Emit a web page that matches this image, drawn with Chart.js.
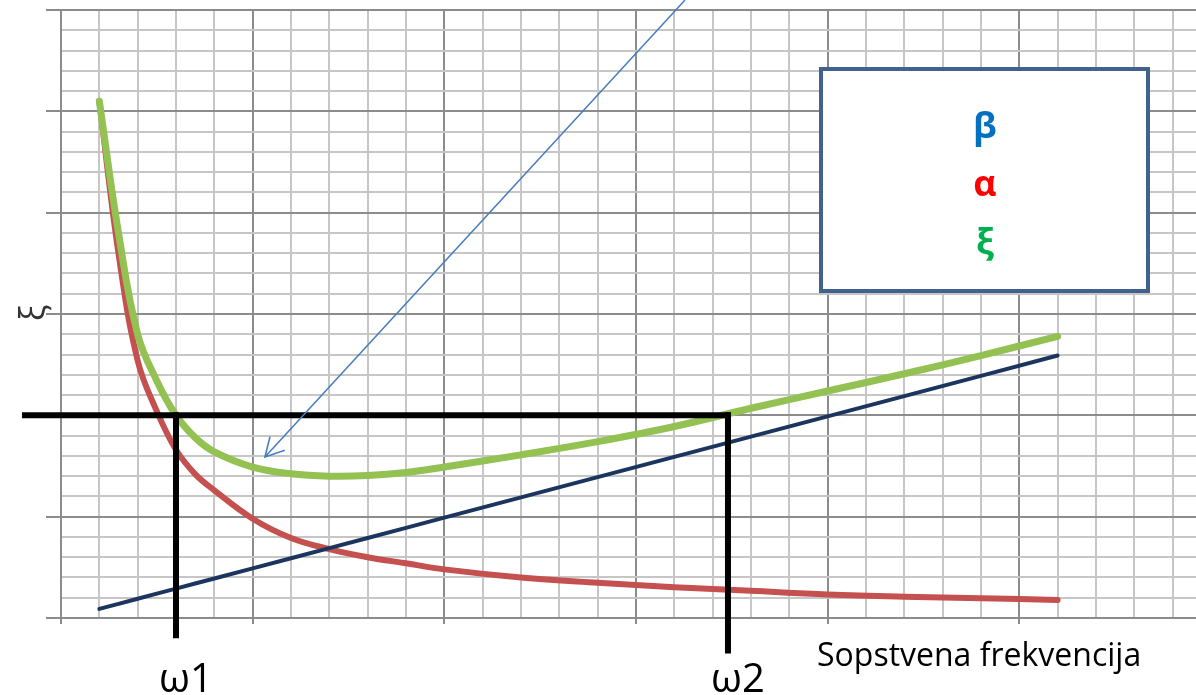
<!DOCTYPE html>
<html>
<head>
<meta charset="utf-8">
<script src="https://cdn.jsdelivr.net/npm/chart.js@4.4.1/dist/chart.umd.min.js"></script>
<style>
    body { margin: 0; background: #ffffff; }
    #wrap { width: 1196px; height: 695px; }
</style>
</head>
<body>
<div id="wrap"><canvas id="myChart" width="1196" height="695"></canvas></div>
<script>
// frequency axis (one grid cell = 1)
var freq = [1, 1.5, 2, 2.5, 3, 3.5, 4, 5, 6, 7, 8, 9, 10, 12, 14, 16, 18, 20, 22, 24, 26];
var alpha = [25.5, 18.0, 12.7, 10.2, 8.3, 7.1, 6.3, 4.9, 3.95, 3.4, 3.0, 2.7, 2.4, 2.0, 1.74, 1.52, 1.34, 1.16, 1.05, 0.98, 0.89];
var beta = [0.45, 0.7, 0.95, 1.2, 1.45, 1.7, 1.95, 2.45, 2.95, 3.45, 3.95, 4.45, 4.95, 5.95, 6.95, 7.95, 8.95, 9.95, 10.95, 11.95, 12.95];
var xi = [25.5, 19.0, 14.0, 11.7, 10.0, 8.9, 8.2, 7.45, 7.12, 7.0, 7.03, 7.18, 7.45, 8.05, 8.7, 9.45, 10.35, 11.2, 12.05, 12.95, 13.9];

var seriesNames = ["β", "α", "ξ"];
var legendColors = ["#0070C0", "#FF0000", "#00B050"];

// target damping and the two frequencies
var xiTarget = 10;
var guideStart = -0.94;
var omegaX = [3.0, 17.4];
var omegaDrop = [-0.85, -1.6];
var omegaLabels = ["ω1", "ω2"];
var axisLabel = "Sopstvena frekvencija";
var yLabel = "ξ";

// arrow pointing at the minimum
var arrowFrom = [16.28, 30.49];
var arrowTo = [5.32, 7.94];

function pts(xs, ys) {
    var out = [];
    for (var i = 0; i < xs.length; i++) {
        out.push({ x: xs[i], y: ys[i] });
    }
    return out;
}

var majorGrid = "#8c8c8c";
var minorGrid = "#c6c6c6";

//Overlay: arrow, legend box, labels
var overlayPlugin = {
    id: "overlay",
    afterDatasetsDraw: function (chart) {
        var ctx = chart.ctx;
        var xs = chart.scales.x;
        var ys = chart.scales.y;
        ctx.save();

        // arrow
        var x1 = xs.getPixelForValue(arrowFrom[0]), y1 = ys.getPixelForValue(arrowFrom[1]);
        var x2 = xs.getPixelForValue(arrowTo[0]), y2 = ys.getPixelForValue(arrowTo[1]);
        var ang = Math.atan2(y1 - y2, x1 - x2);
        ctx.strokeStyle = "#4a7ebf";
        ctx.lineWidth = 1.6;
        ctx.beginPath();
        ctx.moveTo(x1, y1);
        ctx.lineTo(x2, y2);
        ctx.moveTo(x2 + 21 * Math.cos(ang + 0.5), y2 + 21 * Math.sin(ang + 0.5));
        ctx.lineTo(x2, y2);
        ctx.lineTo(x2 + 21 * Math.cos(ang - 0.5), y2 + 21 * Math.sin(ang - 0.5));
        ctx.stroke();

        // legend box
        ctx.fillStyle = "#ffffff";
        ctx.fillRect(819, 67, 331, 226);
        ctx.strokeStyle = "#41628e";
        ctx.lineWidth = 4;
        ctx.strokeRect(821, 69, 327, 222);
        ctx.font = "bold 36px 'Open Sans'";
        ctx.textAlign = "center";
        ctx.textBaseline = "middle";
        for (var i = 0; i < seriesNames.length; i++) {
            ctx.fillStyle = legendColors[i];
            ctx.fillText(seriesNames[i], 985, 128 + i * 58);
        }

        // omega labels
        ctx.fillStyle = "#000000";
        ctx.font = "40px 'Open Sans'";
        ctx.textBaseline = "alphabetic";
        for (var j = 0; j < omegaX.length; j++) {
            ctx.fillText(omegaLabels[j], xs.getPixelForValue(omegaX[j]) + 10, 692);
        }

        // axis title
        ctx.font = "32px 'Open Sans'";
        ctx.textAlign = "left";
        ctx.fillText(axisLabel, 817, 666);

        // y label (rotated xi)
        ctx.translate(34, 313);
        ctx.rotate(-Math.PI / 2);
        ctx.fillStyle = "#333333";
        ctx.font = "34px 'Open Sans'";
        ctx.textAlign = "center";
        ctx.textBaseline = "middle";
        ctx.fillText(yLabel, 0, 0);

        ctx.restore();
    }
};

//Chart
var myChart = document.getElementById("myChart").getContext("2d");
var dampingChart = new Chart(myChart, {
    type: "line",
    data: {
        datasets: [{
            label: "target",
            data: [{ x: guideStart, y: xiTarget }, { x: omegaX[1], y: xiTarget }],
            borderColor: "#000000",
            borderWidth: 6,
            borderCapStyle: "square",
            tension: 0,
            clip: false
        }, {
            label: "omega1",
            data: [{ x: omegaX[0], y: xiTarget }, { x: omegaX[0], y: omegaDrop[0] }],
            borderColor: "#000000",
            borderWidth: 6,
            borderCapStyle: "square",
            tension: 0,
            clip: false
        }, {
            label: "omega2",
            data: [{ x: omegaX[1], y: xiTarget }, { x: omegaX[1], y: omegaDrop[1] }],
            borderColor: "#000000",
            borderWidth: 6,
            borderCapStyle: "square",
            tension: 0,
            clip: false
        }, {
            label: seriesNames[2],
            data: pts(freq, xi),
            borderColor: "#93c152",
            borderWidth: 7,
            borderCapStyle: "round",
            tension: 0.4
        }, {
            label: seriesNames[0],
            data: pts(freq, beta),
            borderColor: "#1c355e",
            borderWidth: 4,
            borderCapStyle: "round",
            tension: 0
        }, {
            label: seriesNames[1],
            data: pts(freq, alpha),
            borderColor: "#c4504f",
            borderWidth: 6,
            borderCapStyle: "round",
            tension: 0.4
        }]
    },
    options: {
        responsive: false,
        animation: false,
        layout: { padding: { top: 10, left: 0, right: 0, bottom: 0 } },
        elements: { point: { radius: 0 } },
        plugins: {
            legend: { display: false },
            tooltip: { enabled: false }
        },
        scales: {
            x: {
                type: "linear",
                min: 0,
                max: 29.61,
                ticks: { stepSize: 1, display: false, includeBounds: false },
                grid: {
                    lineWidth: 2,
                    tickLength: 6,
                    color: function (c) { return c.tick && c.tick.value % 5 === 0 ? majorGrid : minorGrid; },
                    tickColor: function (c) { return c.tick && c.tick.value % 5 === 0 ? majorGrid : "rgba(0,0,0,0)"; }
                },
                border: { color: majorGrid, width: 2 },
                afterFit: function (scale) { scale.height = 77; }
            },
            y: {
                type: "linear",
                min: 0,
                max: 30,
                ticks: { stepSize: 1, display: false },
                grid: {
                    lineWidth: 2,
                    tickLength: 15,
                    color: function (c) { return c.tick && c.tick.value % 5 === 0 ? majorGrid : minorGrid; },
                    tickColor: function (c) { return c.tick && c.tick.value % 5 === 0 ? majorGrid : "rgba(0,0,0,0)"; }
                },
                border: { color: majorGrid, width: 2 },
                afterFit: function (scale) { scale.width = 61; }
            }
        }
    },
    plugins: [overlayPlugin]
});
//End Chart
</script>
</body>
</html>
